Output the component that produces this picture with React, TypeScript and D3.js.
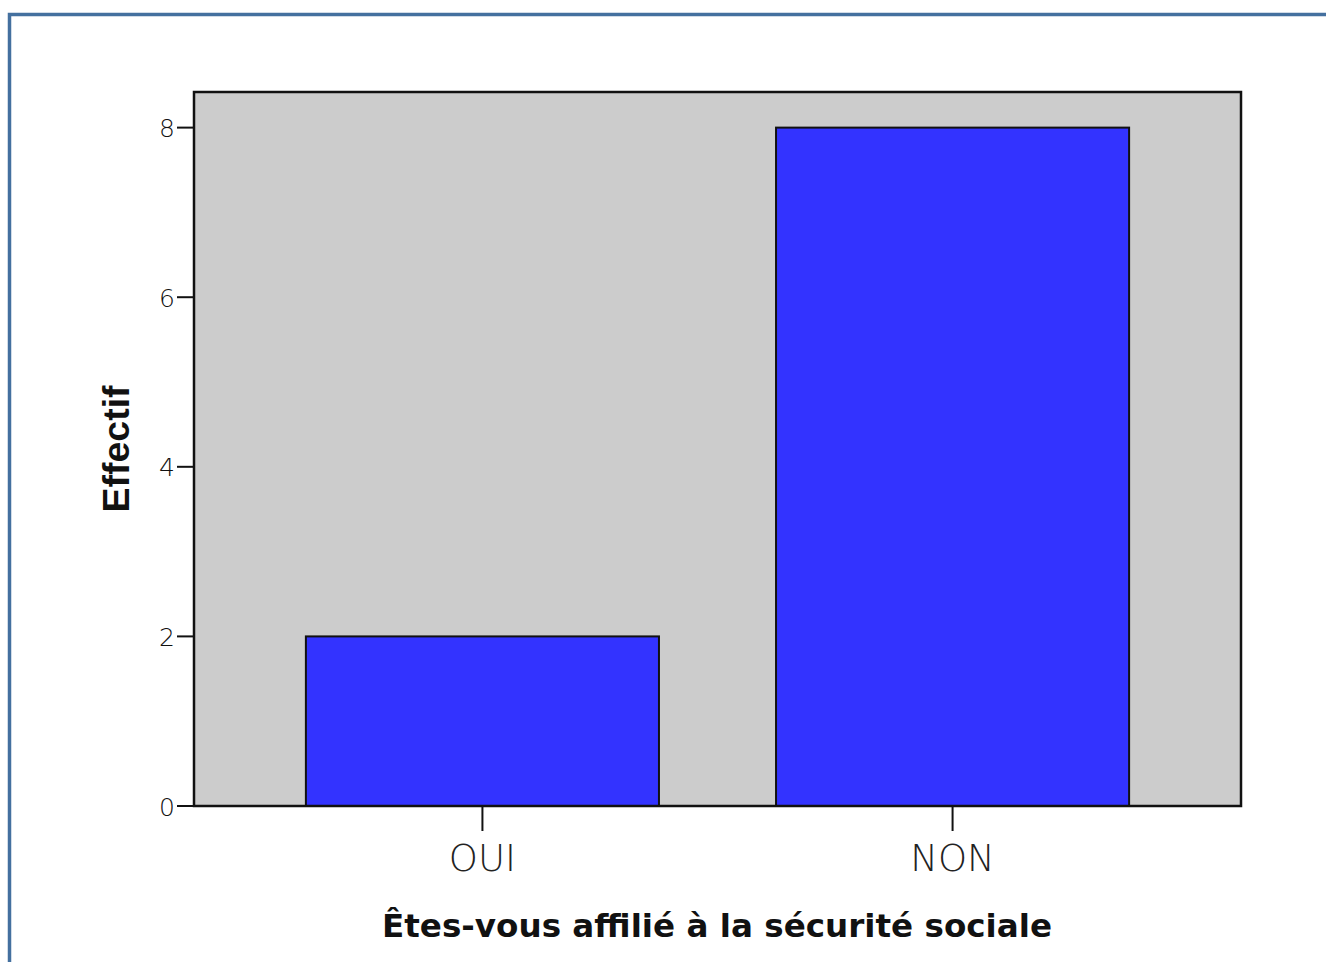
import React from "react";
import * as d3 from "d3";

const categories: string[] = ["OUI", "NON"];
const counts: number[] = [2, 8];
const yTicks: number[] = [0, 2, 4, 6, 8];
const xTitle = "Êtes-vous affilié à la sécurité sociale";
const yTitle = "Effectif";

const W = 1326;
const H = 962;
const plot = { left: 194, right: 1241, top: 92, bottom: 806 };

export default function App() {
  const x = d3
    .scaleBand<string>()
    .domain(categories)
    .range([plot.left, plot.right])
    .paddingInner(0.249)
    .paddingOuter(0.238);
  const y = d3.scaleLinear().domain([0, 8.42]).range([plot.bottom, plot.top]);

  return (
    <svg
      width={W}
      height={H}
      style={{ position: "absolute", left: 0, top: 0, background: "#fff" }}
    >
      {/* outer frame */}
      <rect x={9.5} y={14.5} width={W + 20} height={H + 20} fill="#fff" stroke="#44709f" strokeWidth={3.5} />
      {/* plot background */}
      <rect
        x={plot.left}
        y={plot.top}
        width={plot.right - plot.left}
        height={plot.bottom - plot.top}
        fill="#cccccc"
      />
      {/* bars */}
      {categories.map((c, i) => (
        <rect
          key={c}
          x={x(c)!}
          y={y(counts[i])}
          width={x.bandwidth()}
          height={y(0) - y(counts[i])}
          fill="#3333ff"
          stroke="#111"
          strokeWidth={2}
        />
      ))}
      {/* plot frame */}
      <rect
        x={plot.left}
        y={plot.top}
        width={plot.right - plot.left}
        height={plot.bottom - plot.top}
        fill="none"
        stroke="#111"
        strokeWidth={2.5}
      />
      {/* y ticks */}
      {yTicks.map((t) => (
        <g key={t}>
          <line x1={177} x2={plot.left} y1={y(t)} y2={y(t)} stroke="#111" strokeWidth={2} />
          <text
            x={175}
            y={y(t)}
            dy="0.38em"
            textAnchor="end"
            fontFamily="'DejaVu Sans', sans-serif"
            fontWeight={200}
            fontSize={25}
            fill="#111"
          >
            {t}
          </text>
        </g>
      ))}
      {/* x ticks */}
      {categories.map((c) => {
        const cx = x(c)! + x.bandwidth() / 2;
        return (
          <g key={c}>
            <line x1={cx} x2={cx} y1={plot.bottom} y2={831} stroke="#111" strokeWidth={2} />
            <text
              x={cx}
              y={871}
              textAnchor="middle"
              fontFamily="'DejaVu Sans', sans-serif"
              fontWeight={200}
              fontSize={37}
              fill="#222"
            >
              {c}
            </text>
          </g>
        );
      })}
      {/* axis titles */}
      <text
        x={717}
        y={937}
        textAnchor="middle"
        fontFamily="'DejaVu Sans', sans-serif"
        fontWeight="bold"
        fontSize={32.6}
        fill="#111"
      >
        {xTitle}
      </text>
      <text
        transform={`translate(129,449) rotate(-90)`}
        textAnchor="middle"
        fontFamily="'Liberation Sans', Arial, sans-serif"
        fontWeight="bold"
        fontSize={37.5}
        fill="#111"
      >
        {yTitle}
      </text>
    </svg>
  );
}
